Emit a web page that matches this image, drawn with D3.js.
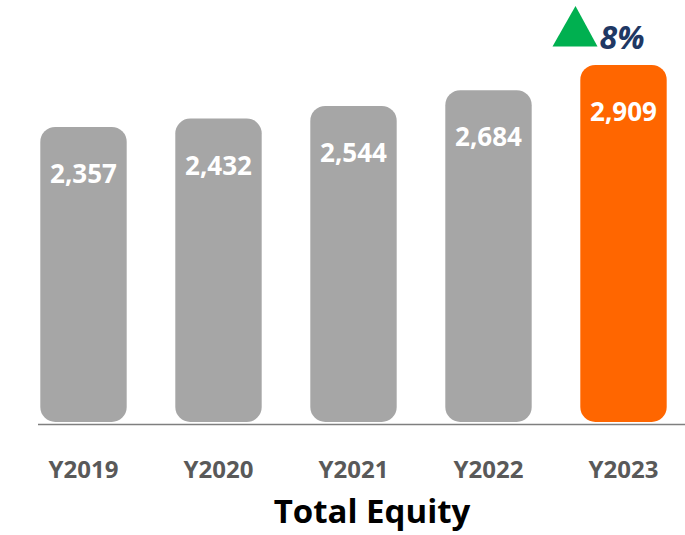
<!DOCTYPE html>
<html>
<head>
<meta charset="utf-8">
<script src="https://cdn.jsdelivr.net/npm/d3@7"></script>
<style>
  body { margin: 0; background: #fff; }
  svg { display: block; }
</style>
</head>
<body>
<svg width="685" height="535"></svg>
<script>
const years = ["Y2019", "Y2020", "Y2021", "Y2022", "Y2023"];
const equity = [2357, 2432, 2544, 2684, 2909];
const growth = "8%";

const svg = d3.select("svg");
const font = "'Open Sans', 'Noto Sans', sans-serif";

// SCALES
const x = d3.scaleBand()
  .domain(years)
  .range([16, 691])
  .paddingInner(0.36)
  .paddingOuter(0.18);

const y = d3.scaleLinear()
  .domain([-280, 3200])
  .range([423, 32.3]);

// BARS
svg.selectAll("rect.bar")
  .data(years)
  .enter()
  .append("rect")
  .attr("class", "bar")
  .attr("x", d => x(d))
  .attr("y", (d, i) => y(equity[i]))
  .attr("width", x.bandwidth())
  .attr("height", (d, i) => y(-280) - y(equity[i]) - 1)
  .attr("rx", 15)
  .attr("fill", (d, i) => i === years.length - 1 ? "#ff6600" : "#a6a6a6");

// value labels inside bars
svg.selectAll("text.value")
  .data(years)
  .enter()
  .append("text")
  .attr("class", "value")
  .attr("x", d => x(d) + x.bandwidth() / 2)
  .attr("y", (d, i) => y(equity[i]) + 47)
  .attr("dy", "0.35em")
  .attr("text-anchor", "middle")
  .attr("font-family", font)
  .attr("font-weight", "bold")
  .attr("font-size", "26px")
  .attr("fill", "#fff")
  .text((d, i) => d3.format(",")(equity[i]));

// baseline
svg.append("line")
  .attr("x1", 38)
  .attr("x2", 685)
  .attr("y1", 424.5)
  .attr("y2", 424.5)
  .attr("stroke", "#7f7f7f")
  .attr("stroke-width", 1.5);

// category labels
svg.selectAll("text.cat")
  .data(years)
  .enter()
  .append("text")
  .attr("class", "cat")
  .attr("x", d => x(d) + x.bandwidth() / 2)
  .attr("y", 470)
  .attr("dy", "0.35em")
  .attr("text-anchor", "middle")
  .attr("font-family", font)
  .attr("font-weight", "bold")
  .attr("font-size", "24px")
  .attr("fill", "#595959")
  .text(d => d);

// title
svg.append("text")
  .attr("x", 372)
  .attr("y", 511)
  .attr("dy", "0.35em")
  .attr("text-anchor", "middle")
  .attr("font-family", font)
  .attr("font-weight", "bold")
  .attr("font-size", "33px")
  .attr("fill", "#000")
  .text("Total Equity");

// growth marker above last bar
const last = years[years.length - 1];
const cx = x(last) + x.bandwidth() / 2;
svg.append("path")
  .attr("d", `M${cx - 71},46.5 L${cx - 48},6 L${cx - 26},46.5 Z`)
  .attr("fill", "#00b050");

svg.append("text")
  .attr("x", cx - 24)
  .attr("y", 38)
  .attr("dy", "0.35em")
  .attr("font-family", font)
  .attr("font-weight", "bold")
  .attr("font-style", "italic")
  .attr("font-size", "32px")
  .attr("fill", "#1f3864")
  .text(growth);
</script>
</body>
</html>
